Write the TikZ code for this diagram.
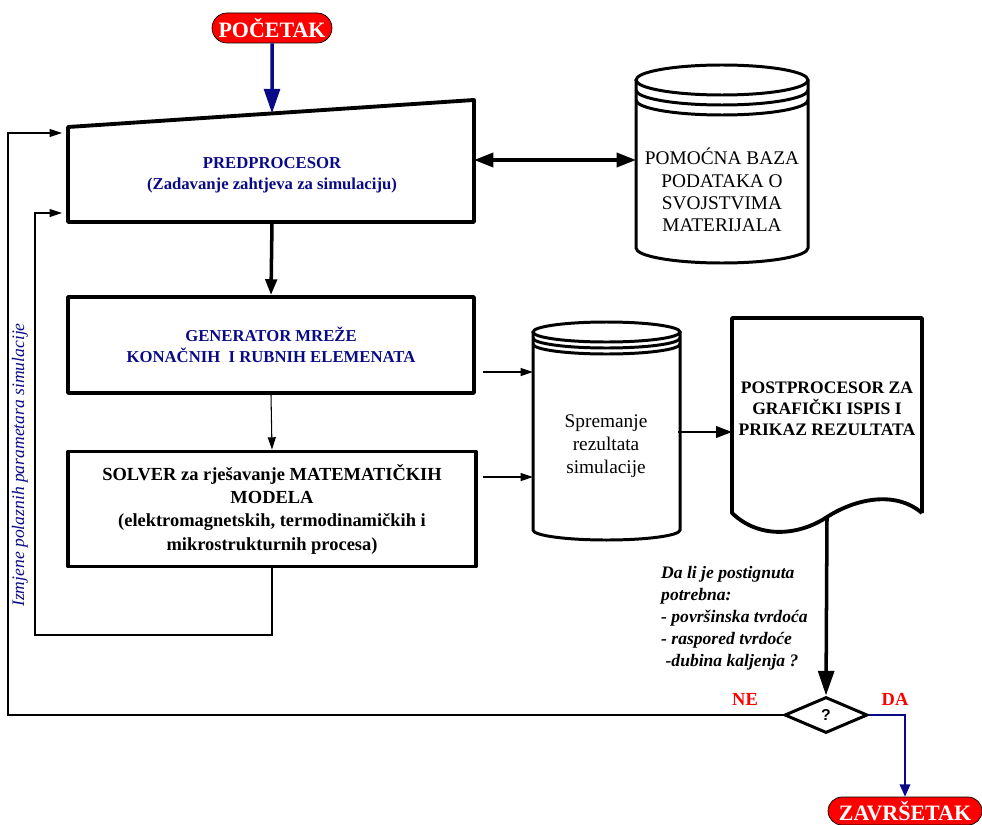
\documentclass[tikz,border=0pt]{standalone}
\usepackage{fontspec}
\setmainfont{Liberation Serif}
\newfontfamily\arialfont{Liberation Sans}
\usetikzlibrary{
  arrows.meta,
  shapes.geometric,
  shapes.misc,
}
\definecolor{navyblue}{RGB}{10,10,135}
\definecolor{termred}{RGB}{255,0,0}
\tikzset{
  terminal/.style={rounded rectangle, draw=black, fill=termred, text=white,
    font=\bfseries\fontsize{12.5}{14}\selectfont, inner sep=0pt},
  block/.style={draw, line width=2.2pt, line join=round},
  drumline/.style={draw, line width=1.7pt},
  bluetext/.style={align=center, text=navyblue, font=\bfseries\fontsize{9.5}{12}\selectfont},
  thin line/.style={line width=0.6pt},
  bigtip/.style={-{Triangle[length=14pt,width=9pt]}},
  midtip/.style={-{Triangle[length=9pt,width=6.5pt]}},
  smalltip/.style={-{Triangle[length=7pt,width=4.5pt]}},
}
\begin{document}
\begin{tikzpicture}[x=0.02cm,y=0.02cm]
\useasboundingbox (0,0) rectangle (982,-824);

% terminals
\node[terminal, minimum width=2.4cm, minimum height=0.6cm] (start) at (272,-28) {POČETAK};
\node[terminal, minimum width=3.08cm, minimum height=0.56cm] (end) at (905,-811) {ZAVRŠETAK};

% predprocesor
\draw[block] (68,-127) coordinate (preTL) -- (474,-100) coordinate (preTR)
  -- (474,-222) -- (68,-222) -- cycle;
\coordinate (preTop) at (272,-113.4);
\coordinate (preBot) at (272,-222);
\coordinate (preR) at (474,-160);
\node[bluetext] (pre) at (272,-175) {PREDPROCESOR\\(Zadavanje zahtjeva za simulaciju)};

% generator and solver
\node[block, minimum width=8.12cm, minimum height=1.92cm] (gen) at (271,-345) {};
\node[bluetext] at (gen) {GENERATOR MREŽE\\KONAČNIH\ \ I RUBNIH ELEMENATA};
\node[block, minimum width=8.16cm, minimum height=2.3cm, align=center,
  font=\bfseries\fontsize{10.5}{13.3}\selectfont] (solver) at (272,-509)
  {SOLVER za rješavanje MATEMATIČKIH\\MODELA\\(elektromagnetskih, termodinamičkih i\\mikrostrukturnih procesa)};

% database drum
\draw[drumline] (636,-80) -- (636,-248) arc[start angle=180,end angle=360,x radius=86,y radius=15] -- (808,-80);
\draw[drumline, fill=white] (722,-80) ellipse[x radius=86,y radius=15];
\draw[drumline] (636,-90) arc[start angle=180,end angle=360,x radius=86,y radius=15];
\draw[drumline] (636,-100) arc[start angle=180,end angle=360,x radius=86,y radius=15];
\coordinate (dbW) at (636,-160);
\node[align=center, font=\fontsize{11}{12.6}\selectfont] (db) at (722,-190)
  {POMOĆNA BAZA\\PODATAKA O\\SVOJSTVIMA\\MATERIJALA};

% storage drum
\draw[drumline] (533,-332) -- (533,-530) arc[start angle=180,end angle=360,x radius=73.5,y radius=10] -- (680,-332);
\draw[drumline, fill=white] (606.5,-332) ellipse[x radius=73.5,y radius=10];
\draw[drumline] (533,-338) arc[start angle=180,end angle=360,x radius=73.5,y radius=10];
\draw[drumline] (533,-344) arc[start angle=180,end angle=360,x radius=73.5,y radius=10];
\coordinate (stA) at (533,-372);
\coordinate (stB) at (533,-477);
\coordinate (stR) at (678,-432);
\node[align=center, font=\fontsize{11}{13}\selectfont] (store) at (606,-446)
  {Spremanje\\rezultata\\simulacije};

% postprocesor document
\draw[block] (922,-513) -- (922,-318) -- (732,-318) -- (732,-513)
  .. controls (760,-540) and (800,-535) .. (827,-517)
  .. controls (855,-499) and (895,-490) .. (922,-513);
\coordinate (postL) at (732,-432);
\coordinate (postBot) at (827,-517);
\node[align=center, font=\bfseries\fontsize{10}{12}\selectfont] (post) at (827,-409)
  {POSTPROCESOR ZA\\GRAFIČKI ISPIS I\\PRIKAZ REZULTATA};

% decision
\node[diamond, draw, line width=1.7pt, minimum width=1.66cm, minimum height=0.72cm,
  inner sep=0pt, font=\arialfont\bfseries\small] (dec) at (826,-715) {?};
\node[align=left, anchor=north west, font=\bfseries\itshape\fontsize{10}{12.5}\selectfont]
  (ask) at (655,-560) {Da li je postignuta\\potrebna:\\- površinska tvrdoća\\- raspored tvrdoće\\\ -dubina kaljenja ?};
\node[text=termred, font=\bfseries\fontsize{10.5}{12}\selectfont] (ne) at (745,-699) {NE};
\node[text=termred, font=\bfseries\fontsize{10.5}{12}\selectfont] (da) at (895,-699) {DA};

% feedback label
\node[rotate=90, text=navyblue, font=\itshape\fontsize{10}{12}\selectfont] (fb) at (20,-465)
  {Izmjene polaznih parametara simulacije};

% connectors
\draw[navyblue, line width=2pt, bigtip] (start) -- (preTop);
\draw[line width=2pt, {Triangle[length=11pt,width=8pt]}-{Triangle[length=11pt,width=8pt]}] (preR) -- (dbW);
\draw[line width=2pt, midtip] (preBot) -- (gen.north);
\draw[thin line, smalltip] (gen.south) -- (solver.north);
\draw[thin line, smalltip] (483,-372) -- (stA);
\draw[thin line, smalltip] (483,-477) -- (stB);
\draw[line width=1.2pt, midtip] (stR) -- (postL);
\draw[line width=2pt, bigtip] (postBot) -- (dec.north);
\draw[thin line, smalltip] (solver.south) |- (35,-635) |- (62,-213);
\draw[thin line, smalltip] (dec.west) -| (8,-133) -- (62,-133);
\draw[navyblue, line width=1pt, -{Triangle[length=7pt,width=6pt]}] (dec.east) -| (end.north);
\end{tikzpicture}
\end{document}
